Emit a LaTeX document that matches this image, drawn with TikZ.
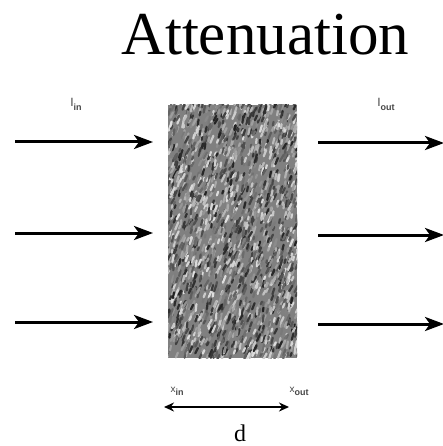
\documentclass[tikz,border=0pt]{standalone}
\usepackage{fontspec}
\setmainfont{Liberation Serif}
\newfontfamily\lab{Liberation Sans}
\usetikzlibrary{arrows.meta}
\begin{document}
\begin{tikzpicture}[x=1pt,y=-1pt,
  flux/.style={line width=3pt,-{Stealth[length=19pt,width=14pt,inset=5pt]}},
  small/.style={font=\lab\fontsize{12}{13}\selectfont,text=black!72,inner sep=0pt},
  dimline/.style={line width=2.8pt,{Stealth[length=10pt,width=9pt]}-{Stealth[length=10pt,width=9pt]}}]
\useasboundingbox (0,0) rectangle (443,446);
\fill[white] (0,0) rectangle (443,446);
% title
\node[font=\fontsize{61}{66}\selectfont,inner sep=0pt,anchor=base] (title) at (265,55) {Attenuation};
% block with texture
\node[draw=none,fill=black!50,minimum width=129pt,minimum height=253pt,inner sep=0pt] (block) at (232.5,231.5) {};
\begin{scope}
\clip (168,105) rectangle (297,358);
\pgfmathsetseed{11}
\foreach \i in {1,...,2000}{
  \pgfmathsetmacro{\px}{166+133*rnd}
  \pgfmathsetmacro{\py}{103+257*rnd}
  \pgfmathsetmacro{\ln}{2.5+4.5*rnd}
  \pgfmathsetmacro{\sh}{12+75*rnd}
  \pgfmathsetmacro{\dx}{0.1+0.5*rnd}
  \draw[line width=2.2pt,line cap=round,black!\sh] (\px,\py) -- ++(\dx*\ln,-\ln);
}
\end{scope}
% left arrows
\coordinate (l1) at (15,142);
\coordinate (l2) at (15,233);
\coordinate (l3) at (15,322);
\coordinate (e1) at (153,142);
\coordinate (e2) at (153,233);
\coordinate (e3) at (153,322);
\draw[flux] (l1) -- (e1);
\draw[flux] (l2) -- (e2);
\draw[flux] (l3) -- (e3);
% right arrows
\coordinate (r1) at (318,143);
\coordinate (r2) at (318,235);
\coordinate (r3) at (318,324);
\coordinate (s1) at (444,143);
\coordinate (s2) at (444,235);
\coordinate (s3) at (444,324);
\draw[flux] (r1) -- (s1);
\draw[flux] (r2) -- (s2);
\draw[flux] (r3) -- (s3);
% labels
\node[small] (iin) at (76,104) {I\raisebox{-4pt}{\fontsize{9}{10}\selectfont\bfseries in}};
\node[small] (iout) at (386,104) {I\raisebox{-4pt}{\fontsize{9}{10}\selectfont\bfseries out}};
\node[small,font=\lab\fontsize{10}{11}\selectfont] (xin) at (177,391) {x\raisebox{-3pt}{\fontsize{9}{10}\selectfont\bfseries in}};
\node[small,font=\lab\fontsize{10}{11}\selectfont] (xout) at (299,391) {x\raisebox{-3pt}{\fontsize{9}{10}\selectfont\bfseries out}};
\coordinate (d1) at (164,407);
\coordinate (d2) at (289,407);
\draw[dimline] (d1) -- (d2);
\node[font=\fontsize{24}{26}\selectfont,inner sep=0pt] (d) at (240,433) {d};
\end{tikzpicture}
\end{document}
